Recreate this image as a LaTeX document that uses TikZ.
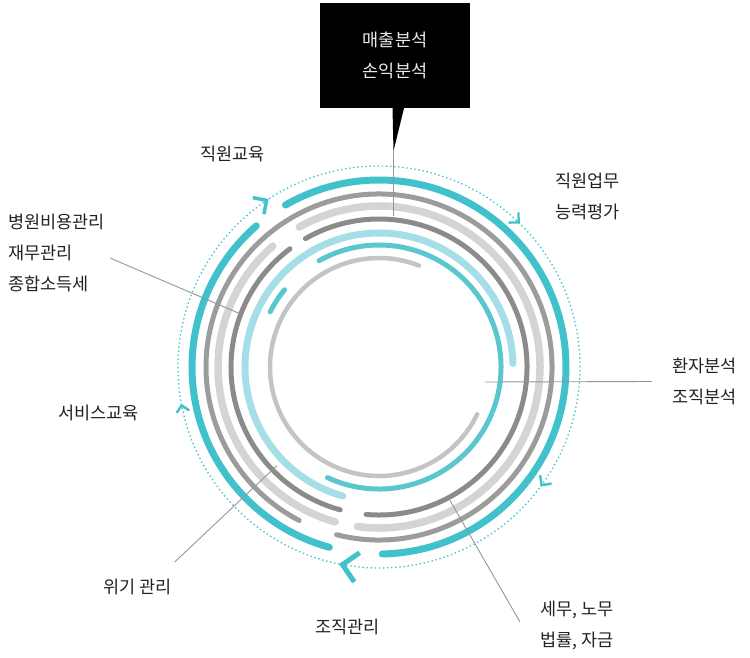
\documentclass[tikz,border=0pt]{standalone}
\usepackage{fontspec}
\setmainfont{Noto Sans CJK KR}
\usetikzlibrary{calc}
\definecolor{ringteal}{RGB}{64,193,204}
\definecolor{ringmint}{RGB}{90,198,205}
\definecolor{ringblue}{RGB}{166,222,231}
\definecolor{ringmid}{RGB}{156,156,156}
\definecolor{ringlight}{RGB}{212,212,212}
\definecolor{ringdark}{RGB}{139,139,139}
\definecolor{ringinner}{RGB}{196,196,196}
\definecolor{leadergray}{RGB}{150,150,150}
\definecolor{labeltext}{RGB}{34,34,34}
\tikzset{
  ring/.style={line cap=round},
  tealring/.style={ring, draw=ringteal, line width=7bp},
  midring/.style={ring, draw=ringmid, line width=5bp},
  lightring/.style={ring, draw=ringlight, line width=7.5bp},
  darkring/.style={ring, draw=ringdark, line width=5bp},
  bluering/.style={ring, draw=ringblue, line width=7bp},
  mintring/.style={ring, draw=ringmint, line width=5bp},
  innerring/.style={ring, draw=ringinner, line width=4.5bp},
  guide/.style={draw=ringteal, line width=1.3bp, dash pattern=on 1.4bp off 2.7bp},
  chevron/.style={draw=ringteal, line cap=butt, line join=miter},
  leader/.style={draw=leadergray, line width=0.9bp},
  tag/.style={font=\fontsize{17.5bp}{31bp}\selectfont, text=labeltext,
              align=left, inner sep=0pt, anchor=west}
}

\begin{document}
\begin{tikzpicture}[
    x=1bp, y=1bp,
    callout/.style={rectangle, fill=black, text=white!92!black,
                    minimum width=150bp, minimum height=105bp, inner sep=0pt,
                    align=center, font=\fontsize{17.5bp}{31bp}\selectfont}
]
  \useasboundingbox (0,0) rectangle (750,-658);
  \coordinate (C) at (379,-367);

  % Dotted guide circle with clockwise chevrons
  \draw[guide] (C) circle[radius=201];
  \foreach \ang/\len/\wid in {124/14/3.5, 46/10/2.4, -36/10/2.4, 259.5/21/5, 191/9/2.4}{
    \draw[chevron, line width=\wid bp] ($(C)+(\ang:201)$) ++(\ang+45:\len)
      -- ++(\ang-135:\len) -- ++(\ang+135:\len);
  }

  % Rings, outside in
  \foreach \sty/\rad/\from/\to in {
      tealring/187/131/254.6, tealring/187/271/480,
      midring/173/255.8/602.5,
      lightring/161/131.3/254.2, lightring/161/262.3/479.7,
      darkring/148/127/254.8, darkring/148/265/479.8,
      bluering/134/1.5/254.3,
      mintring/122/-115/119.4, mintring/122/140.7/153.1,
      innerring/109/68.5/334.3}{
    \draw[\sty] ($(C)+(\from:\rad)$) arc[start angle=\from, end angle=\to, radius=\rad];
  }

  % Top callout
  \node[callout] (sales) at (395,-55.5) {매출분석\\손익분석};
  \coordinate (tip) at (393.5,-151);
  \fill[black] ([xshift=-2.5bp]sales.south) -- ([xshift=9bp]sales.south) -- (tip) -- cycle;
  \coordinate (pin-sales) at (393.5,-216);
  \draw[leader] (tip) -- (pin-sales);

  % Labels round the rings
  \node[tag] (staffedu)  at (200,-154)   {직원교육};
  \node[tag] (costmgmt)  at (8,-253)     {병원비용관리\\재무관리\\종합소득세};
  \node[tag] (staffeval) at (555,-196)   {직원업무\\능력평가};
  \node[tag] (patient)   at (672,-381.5) {환자분석\\조직분석};
  \node[tag] (service)   at (58,-413)    {서비스교육};
  \node[tag] (crisis)    at (103,-587)   {위기 관리};
  \node[tag] (orgmgmt)   at (315,-627)   {조직관리};
  \node[tag] (taxlaw)    at (540,-625)   {세무, 노무\\법률, 자금};

  % Leader lines to the rings
  \coordinate (pin-cost)    at ($(C)+(159:150)$);
  \coordinate (pin-patient) at ($(C)+(106,-15)$);
  \coordinate (pin-crisis)  at ($(C)+(224:142)$);
  \coordinate (pin-tax)     at ($(C)+(-62:151)$);
  \draw[leader] ([shift={(5bp,-5bp)}]costmgmt.east) -- (pin-cost);
  \draw[leader] ([xshift=-20bp]patient.west) -- (pin-patient);
  \draw[leader] ([shift={(3bp,25bp)}]crisis.east) -- (pin-crisis);
  \draw[leader] ([shift={(-20bp,3bp)}]taxlaw.west) -- (pin-tax);

\end{tikzpicture}
\end{document}
